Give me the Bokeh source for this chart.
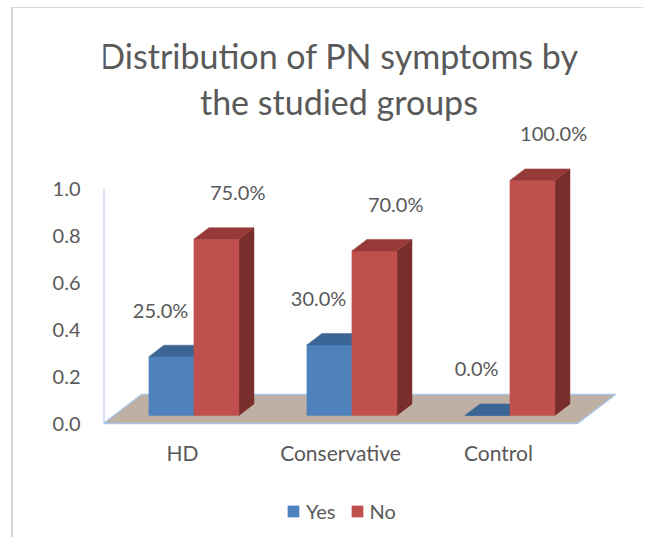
from bokeh.plotting import figure
from bokeh.models import (Range1d, LinearAxis, FixedTicker, PrintfTickFormatter,
                          Legend, LegendItem)
from bokeh.core.properties import value
from bokeh.embed import file_html
from bokeh.resources import INLINE

# ---------------- data ----------------
categories = ["HD", "Conservative", "Control"]
series = ["Yes", "No"]
yes_vals = [0.25, 0.30, 0.0]
no_vals = [0.75, 0.70, 1.0]
y_ticks = [0.0, 0.2, 0.4, 0.6, 0.8, 1.0]
title_lines = ["Distribution of PN symptoms by", "the studied groups"]

# ---------------- style / geometry ----------------
FONT = "Lato"
TXT = "#595959"
PX, PY = 158.0, 235.0            # pixels per data unit (x, y)
DDX, DDY = 38.0 / PX, 29.0 / PY  # depth projection per unit depth
D0, D1 = 0.28, 0.675             # bar front/back depth
W = 0.285                        # bar width (data units)
fx, fy = D0 * DDX, D0 * DDY
bx, by = D1 * DDX, D1 * DDY

TOP = 8      # page y of figure content top
BOT = 538    # page y of figure content bottom

p = figure(width=632, height=530, output_backend="svg", toolbar_location=None,
           x_range=Range1d(-0.5, (645 - 182) / PX),
           y_range=Range1d((423 - BOT) / PY, (423 - TOP) / PY),
           min_border_left=90, min_border_right=0, min_border_top=0, min_border_bottom=0,
           x_axis_location=None, y_axis_location=None)
p.styles = {"border-top": "1px solid #d9d9d9", "border-left": "2px solid #d9d9d9",
            "margin-left": "11px", "margin-top": "7px"}
p.outline_line_color = None
p.grid.visible = False
p.background_fill_color = "white"
p.border_fill_color = "white"

yax = LinearAxis(ticker=FixedTicker(ticks=y_ticks), formatter=PrintfTickFormatter(format="%.1f"))
yax.axis_line_color = None
yax.major_tick_line_color = None
yax.minor_tick_line_color = None
yax.major_tick_out = 0
yax.major_tick_in = 0
yax.major_label_standoff = 23
yax.major_label_text_font = FONT
yax.major_label_text_font_size = "20px"
yax.major_label_text_color = TXT
p.add_layout(yax, "left")

# floor
n = len(categories)
floor_x = [-0.5, n - 0.5, n - 0.5 + DDX, -0.5 + DDX]
floor_y = [0, 0, DDY, DDY]
p.patch(floor_x, floor_y, fill_color="#bfb0a4", line_color="#a9c6e8", line_width=1.5)
# back wall axis line
p.line([-0.5, -0.5], [0, max(y_ticks)], line_color="#a9c6e8", line_width=2)


def faces(vals, j):
    fr_x, fr_y, tp_x, tp_y, sd_x, sd_y = [], [], [], [], [], []
    for i, v in enumerate(vals):
        x0 = i + (-W if j == 0 else 0.0) + 0.005
        x1 = x0 + W
        fr_x.append([x0 + fx, x1 + fx, x1 + fx, x0 + fx])
        fr_y.append([fy, fy, v + fy, v + fy])
        tp_x.append([x0 + fx, x1 + fx, x1 + bx, x0 + bx])
        tp_y.append([v + fy, v + fy, v + by, v + by])
        sd_x.append([x1 + fx, x1 + bx, x1 + bx, x1 + fx])
        sd_y.append([fy, by, v + by, v + fy])
    return fr_x, fr_y, tp_x, tp_y, sd_x, sd_y


colors = {0: ("#4f81bd", "#3b6595", "#375c8a"), 1: ("#c0504d", "#953a38", "#7a2e2c")}
front_renderers = []
for j, vals in enumerate([yes_vals, no_vals]):
    fr_x, fr_y, tp_x, tp_y, sd_x, sd_y = faces(vals, j)
    cf, ct, cs = colors[j]
    p.patches(sd_x, sd_y, fill_color=cs, line_color=cs, line_width=0.5)
    r = p.patches(fr_x, fr_y, fill_color=cf, line_color=cf, line_width=0.5)
    p.patches(tp_x, tp_y, fill_color=ct, line_color=ct, line_width=0.5)
    front_renderers.append(r)

# value labels
lab_x, lab_y, lab_t = [], [], []
for j, vals in enumerate([yes_vals, no_vals]):
    for i, v in enumerate(vals):
        cx = i + (-W / 2 if j == 0 else W / 2) + fx
        cx += (-10.0 / PX) if j == 0 else (22.0 / PX)
        lab_x.append(cx)
        lab_y.append(v + fy + 47.0 / PY)
        lab_t.append(f"{v * 100:.1f}%")
p.text(lab_x, lab_y, text=lab_t, text_font=value(FONT), text_font_size="20px",
       text_color=TXT, text_align="center", text_baseline="middle")

# category labels
p.text(list(range(n)), [(423 - 452) / PY] * n, text=categories, text_font=value(FONT),
       text_font_size="21px", text_color=TXT, text_align="center", text_baseline="middle")

# title
p.text([0.99, 0.99], [(423 - 55) / PY, (423 - 101) / PY], text=title_lines,
       text_font=value(FONT), text_font_size="34px", text_color=TXT,
       text_align="center", text_baseline="middle")

legend = Legend(items=[LegendItem(label=s, renderers=[r]) for s, r in zip(series, front_renderers)],
                orientation="horizontal", location=(183, 15))
legend.glyph_width = 14
legend.glyph_height = 14
legend.label_standoff = 6
legend.spacing = 14
legend.padding = 0
legend.margin = 0
legend.border_line_color = None
legend.background_fill_alpha = 0
legend.label_text_font = FONT
legend.label_text_font_size = "20px"
legend.label_text_color = TXT
p.add_layout(legend, "center")

open("out.html", "w").write(file_html(p, INLINE))
